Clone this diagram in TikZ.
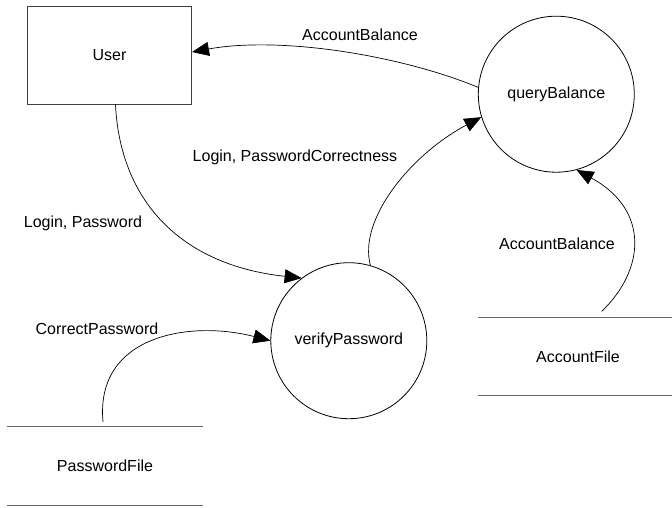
\documentclass[tikz,border=0pt]{standalone}
\usepackage{fontspec}
\setmainfont{Liberation Sans}
\usetikzlibrary{arrows.meta}
\begin{document}
\begin{tikzpicture}[x=1pt,y=-1pt,
  every node/.style={font=\fontsize{16}{19}\selectfont, inner sep=0pt},
  proc/.style={draw=black, line width=0.8pt, circle, minimum size=156pt},
  ext/.style={draw=black!75, line width=1pt, minimum width=164pt, minimum height=98pt},
  store/.style={minimum width=196pt, minimum height=78pt},
  storeline/.style={draw=black!60, line width=1pt},
  flow/.style={draw=black, line width=0.7pt, -{Triangle[length=17pt,width=14pt]}}]
  \useasboundingbox (0,0) rectangle (672,507);

  % external entity and processes
  \node[ext]  (user) at (109.5,55)    {User};
  \node[proc] (qb)   at (556.3,94.2)  {queryBalance};
  \node[proc] (vp)   at (348.8,340.7) {verifyPassword};

  % data stores: open boxes with top and bottom rules
  \node[store] (pf) at (105,466) {PasswordFile};
  \node[store, minimum width=200pt] (af) at (578,356.5) {AccountFile};
  \draw[storeline] (pf.north west) -- (pf.north east)
                   (pf.south west) -- (pf.south east);
  \draw[storeline] (af.north west) -- (af.north east)
                   (af.south west) -- (af.south east);

  % data flows
  \draw[flow] (qb.175) .. controls (400,55) and (280,36) .. ([yshift=3pt]user.east);
  \draw[flow] ([xshift=6pt]user.south) .. controls (120,200) and (180,265) .. (vp.127);
  \draw[flow] (vp.74) .. controls (358,220) and (410,155) .. (qb.197);
  \draw[flow] ([xshift=-2pt,yshift=5pt]pf.north) .. controls (95,335) and (190,320) .. (vp.west);
  \draw[flow] ([xshift=23.7pt,yshift=6pt]af.north) .. controls (645,270) and (650,210) .. (qb.-75);

  % flow labels
  \node (lab1) at (360,35)  {AccountBalance};
  \node (lab2) at (295,157) {Login, PasswordCorrectness};
  \node (lab3) at (83,223)  {Login, Password};
  \node (lab4) at (97,329)  {CorrectPassword};
  \node (lab5) at (557,244) {AccountBalance};
\end{tikzpicture}
\end{document}
